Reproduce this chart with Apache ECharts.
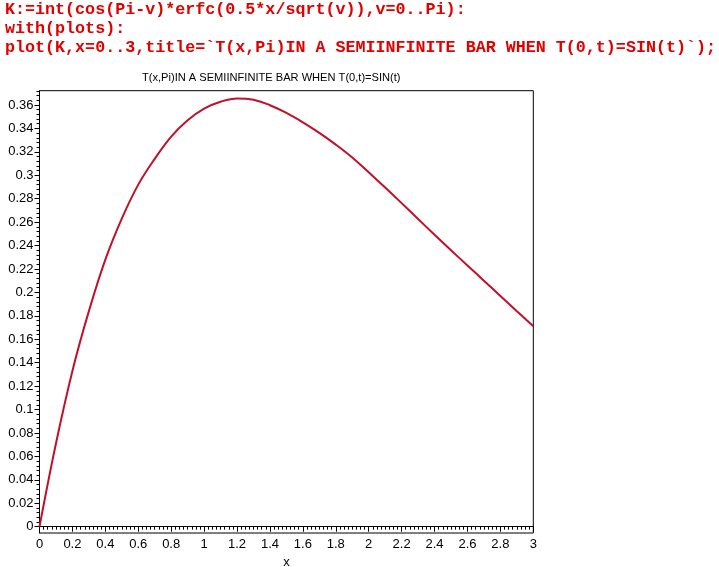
<!DOCTYPE html>
<html>
<head>
<meta charset="utf-8">
<script src="https://cdn.jsdelivr.net/npm/echarts@6/dist/echarts.min.js"></script>
<style>
html,body{margin:0;padding:0;background:#fff;}
#chart{width:719px;height:567px;}
</style>
</head>
<body>
<div id="chart"></div>
<script>
var codeLines = [
  "K:=int(cos(Pi-v)*erfc(0.5*x/sqrt(v)),v=0..Pi):",
  "with(plots):",
  "plot(K,x=0..3,title=`T(x,Pi)IN A SEMIINFINITE BAR WHEN T(0,t)=SIN(t)`);"
];
var chartTitle = "T(x,Pi)IN A SEMIINFINITE BAR WHEN T(0,t)=SIN(t)";
var xName = "x";
var xValues = [0,0.1,0.2,0.3,0.4,0.5,0.6,0.7,0.8,0.9,1.0,1.1,1.2,1.3,1.4,1.5,1.6,1.7,1.8,1.9,2.0,2.1,2.2,2.3,2.4,2.5,2.6,2.7,2.8,2.9,3.0];
var yValues = [0,0.071,0.133,0.184,0.228,0.263,0.292,0.314,0.333,0.347,0.357,0.3628,0.3656,0.3645,0.3598,0.3532,0.3452,0.3362,0.3262,0.3152,0.3025,0.2895,0.2762,0.2627,0.2492,0.2360,0.2230,0.2100,0.1970,0.1840,0.1712];
var yMajorTicks = [0,0.02,0.04,0.06,0.08,0.1,0.12,0.14,0.16,0.18,0.2,0.22,0.24,0.26,0.28,0.3,0.32,0.34,0.36];
var yMinorTicks = [];
for (var i = 0; i <= 93; i++) { yMinorTicks.push(Math.round(i * 0.004 * 10000) / 10000); }

var seriesData = xValues.map(function (x, i) { return [x, yValues[i]]; });

var chart = echarts.init(document.getElementById('chart'), null, {renderer: 'canvas'});
var labelFont = {color: '#000', fontFamily: 'Liberation Sans, Arial, sans-serif', fontSize: 13};
var codeGraphics = codeLines.map(function (t, i) {
  return {
    type: 'text', left: 5, top: 1 + i * 19.3,
    style: {text: t, fill: '#e00000', font: 'bold 16.7px "Liberation Mono", "DejaVu Sans Mono", monospace'}
  };
});
chart.setOption({
  backgroundColor: '#fff',
  animation: false,
  title: {
    text: chartTitle, left: 137, top: 67,
    textStyle: {fontFamily: 'Liberation Sans, Arial, sans-serif', fontSize: 11.1, fontWeight: 'normal', color: '#000'}
  },
  graphic: codeGraphics,
  grid: {left: 39.5, right: 185.7, top: 90.7, bottom: 34, outerBoundsMode: 'none', containLabel: false,
         show: true, borderColor: '#000', borderWidth: 1, backgroundColor: 'transparent'},
  xAxis: {
    type: 'value', min: 0, max: 3, interval: 0.2,
    name: xName, nameLocation: 'middle', nameGap: 22,
    nameTextStyle: labelFont,
    axisLine: {show: true, lineStyle: {color: '#000', width: 1}},
    axisTick: {show: true, length: 5, lineStyle: {color: '#000'}},
    minorTick: {show: true, splitNumber: 8, length: 3, lineStyle: {color: '#000'}},
    axisLabel: Object.assign({margin: 5}, labelFont),
    splitLine: {show: false}
  },
  yAxis: [{
    type: 'value', min: -0.0054, max: 0.3722,
    axisLine: {show: true, lineStyle: {color: '#000', width: 1}},
    axisTick: {show: true, length: 5, customValues: yMajorTicks, lineStyle: {color: '#000'}},
    axisLabel: Object.assign({margin: 6, customValues: yMajorTicks}, labelFont),
    splitLine: {show: false}
  }, {
    type: 'value', min: -0.0054, max: 0.3722, position: 'left', offset: 0,
    axisLine: {show: false},
    axisTick: {show: true, length: 3, customValues: yMinorTicks, lineStyle: {color: '#000'}},
    axisLabel: {show: false},
    splitLine: {show: false}
  }],
  series: [{
    type: 'line', data: seriesData, smooth: 0.4, showSymbol: false,
    lineStyle: {color: '#c0102a', width: 2}, itemStyle: {color: '#c0102a'}
  }]
});
</script>
</body>
</html>
